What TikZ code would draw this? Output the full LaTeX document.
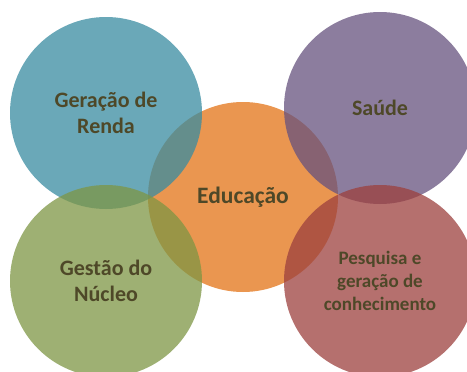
\documentclass[tikz,border=0pt]{standalone}
\usepackage{fontspec}
\setmainfont{Carlito}
\definecolor{cblue}{RGB}{56,139,160}
\definecolor{cgreen}{RGB}{126,150,68}
\definecolor{corange}{RGB}{227,115,22}
\definecolor{cpurple}{RGB}{102,82,126}
\definecolor{cred}{RGB}{156,64,62}
\definecolor{ctext}{RGB}{78,72,40}
\begin{document}
\begin{tikzpicture}[x=1pt,y=-1pt,
  bubble/.style={circle,minimum size=192pt,inner sep=0pt,fill opacity=0.75,draw=none},
  lbl/.style={text=ctext,align=center,font=\bfseries\fontsize{22}{26.5}\selectfont}]
\useasboundingbox (0,0) rectangle (467,372);
\begin{scope}
\clip (0,0) rectangle (467,372);
\node[bubble,fill=corange,minimum size=190pt] (edu) at (243,197) {};
\node[bubble,fill=cblue] (ren) at (106,113) {};
\node[bubble,fill=cgreen] (ges) at (106,281) {};
\node[bubble,fill=cpurple] (sau) at (380,108) {};
\node[bubble,fill=cred] (pes) at (380,281) {};
\end{scope}
\node[lbl] (tren) at (ren.center) {Geração de\\Renda};
\node[lbl] (tges) at (ges.center) {Gestão do\\Núcleo};
\node[lbl] (tsau) at (sau.center) {Saúde};
\node[lbl,font=\bfseries\fontsize{23.5}{28}\selectfont] (tedu) at (edu.center) {Educação};
\node[lbl,font=\bfseries\fontsize{19}{23}\selectfont] (tpes) at (pes.center) {Pesquisa e\\geração de\\conhecimento};
\end{tikzpicture}
\end{document}
